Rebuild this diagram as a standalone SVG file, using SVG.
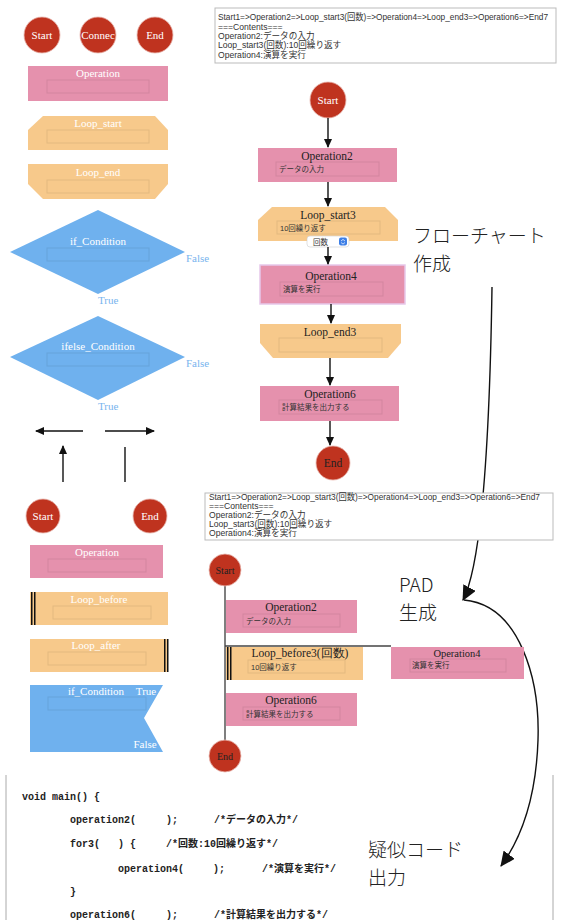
<svg xmlns="http://www.w3.org/2000/svg" width="566" height="920" viewBox="0 0 566 920">
<defs>
<style>
.circ{fill:#bf331f;stroke:#e8b8b0;stroke-width:0.8}
.op{fill:#e591ad}
.lp{fill:#f7c98b}
.cd{fill:#6fb1ee}
.inp{fill:none;stroke:#000;stroke-opacity:0.08;stroke-width:1}
.wl{font-family:"Liberation Serif",serif;font-size:11px;fill:#fff;text-anchor:middle}
.bl{font-family:"Liberation Serif",serif;font-size:11.5px;fill:#222;text-anchor:middle}
.cl{font-family:"Liberation Serif",serif;font-size:11px;fill:#fff;text-anchor:middle}
.tf{font-family:"Liberation Serif",serif;font-size:11px;fill:#78b4ee}
.in{font-family:"Liberation Sans","Noto Sans CJK JP",sans-serif;font-size:7.5px;fill:#333}
.box{fill:#fff;stroke:#bbb;stroke-width:1}
.bt{font-family:"Liberation Sans","Noto Sans CJK JP",sans-serif;font-size:8.6px;fill:#333}
.big{font-family:"Noto Sans CJK JP",sans-serif;font-size:19px;font-weight:300;fill:#222}
.code{font-family:"Liberation Mono","Noto Sans CJK JP",monospace;font-size:10px;font-weight:bold;fill:#222}
.ar{stroke:#111;stroke-width:1.4;fill:none}
.bar{fill:#111}
</style>
<marker id="ah" markerWidth="10" markerHeight="10" refX="8" refY="5" orient="auto" markerUnits="userSpaceOnUse">
<path d="M0,1 L9,5 L0,9 z" fill="#111"/>
</marker>
<marker id="ahb" markerWidth="16" markerHeight="14" refX="14" refY="7" orient="auto" markerUnits="userSpaceOnUse">
<path d="M0,0 L15,7 L0,14 z" fill="#111"/>
</marker>
</defs>
<rect width="566" height="920" fill="#fff"/>

<!-- Palette top -->
<g id="p-start"><circle class="circ" cx="42" cy="35" r="18"/><text class="cl" x="42" y="39">Start</text></g>
<g id="p-connec"><circle class="circ" cx="98" cy="35" r="18"/><text class="cl" x="98" y="39">Connec</text></g>
<g id="p-end"><circle class="circ" cx="155" cy="35" r="18"/><text class="cl" x="155" y="39">End</text></g>
<g id="p-op"><rect class="op" x="28" y="66" width="140" height="35"/><text class="wl" x="98" y="77">Operation</text><rect class="inp" x="47" y="80" width="102" height="13"/></g>
<g id="p-loopstart"><polygon class="lp" points="43,116 155,116 168,130 168,150 28,150 28,130"/><text class="wl" x="98" y="127">Loop_start</text><rect class="inp" x="47" y="130" width="102" height="13"/></g>
<g id="p-loopend"><polygon class="lp" points="28,164 168,164 168,184 155,199 43,199 28,184"/><text class="wl" x="98" y="176">Loop_end</text><rect class="inp" x="47" y="180" width="102" height="13"/></g>
<g id="p-if"><polygon class="cd" points="98,210 185,252 98,294 10,252"/><text class="wl" x="98" y="245">if_Condition</text><rect class="inp" x="47" y="248" width="102" height="13"/><text class="tf" x="186" y="262">False</text><text class="tf" x="98" y="304">True</text></g>
<g id="p-ifelse"><polygon class="cd" points="98,316 185,357 98,400 10,357"/><text class="wl" x="98" y="350">ifelse_Condition</text><rect class="inp" x="47" y="353" width="102" height="13"/><text class="tf" x="186" y="367">False</text><text class="tf" x="98" y="410">True</text></g>
<g id="p-arrows">
<line class="ar" x1="83" y1="431" x2="36" y2="431" marker-end="url(#ah)"/>
<line class="ar" x1="105" y1="431" x2="154" y2="431" marker-end="url(#ah)"/>
<line class="ar" x1="63" y1="482" x2="63" y2="446" marker-end="url(#ah)"/>
<line class="ar" x1="125" y1="447" x2="125" y2="482"/>
</g>

<!-- Text box 1 -->
<g id="tb1">
<rect class="box" x="215" y="8" width="341" height="55"/>
<text class="bt" x="218" y="20" textLength="330" lengthAdjust="spacingAndGlyphs">Start1=&gt;Operation2=&gt;Loop_start3(回数)=&gt;Operation4=&gt;Loop_end3=&gt;Operation6=&gt;End7</text>
<text class="bt" x="218" y="30">===Contents===</text>
<text class="bt" x="218" y="39">Operation2:データの入力</text>
<text class="bt" x="218" y="48">Loop_start3(回数):10回繰り返す</text>
<text class="bt" x="218" y="58">Operation4:演算を実行</text>
</g>

<!-- Flowchart -->
<g id="f-start"><circle class="circ" cx="328" cy="100" r="18"/><text class="cl" x="328" y="104">Start</text></g>
<g id="f-op2"><rect class="op" x="258" y="148" width="139" height="34"/><text class="bl" x="327" y="160">Operation2</text><rect class="inp" x="276" y="162" width="103" height="14"/><text class="in" x="279" y="172">データの入力</text></g>
<g id="f-loop3"><polygon class="lp" points="272,207 385,207 398,220 398,241 258,241 258,220"/><text class="bl" x="328" y="219">Loop_start3</text><rect class="inp" x="277" y="221" width="103" height="13"/><text class="in" x="280" y="231">10回繰り返す</text>
<rect x="307" y="236" width="42" height="11" rx="3" fill="#fff" stroke="#ccc" stroke-width="0.6"/><text class="in" x="313" y="244.5">回数</text><rect x="339" y="237.5" width="8" height="8" rx="2" fill="#3d7fe6"/><path d="M341,241 l2,-1.6 l2,1.6 M341,242.5 l2,1.6 l2,-1.6" stroke="#fff" stroke-width="0.7" fill="none"/></g>
<g id="f-op4"><rect class="op" x="260" y="265" width="145" height="39" stroke="#e6c8ea" stroke-width="1.5"/><text class="bl" x="331" y="280">Operation4</text><rect class="inp" x="280" y="282" width="103" height="14"/><text class="in" x="283" y="292">演算を実行</text></g>
<g id="f-loopend3"><polygon class="lp" points="260,324 401,324 401,343 388,358 273,358 260,343"/><text class="bl" x="330" y="336">Loop_end3</text><rect class="inp" x="279" y="338" width="103" height="14"/></g>
<g id="f-op6"><rect class="op" x="260" y="386" width="139" height="35"/><text class="bl" x="330" y="398">Operation6</text><rect class="inp" x="279" y="400" width="103" height="14"/><text class="in" x="282" y="410">計算結果を出力する</text></g>
<g id="f-end"><circle class="circ" cx="333" cy="463" r="17"/><text class="bl" x="333" y="467" style="fill:#222">End</text></g>
<g id="f-conn">
<line class="ar" x1="328" y1="118" x2="328" y2="147" marker-end="url(#ah)"/>
<line class="ar" x1="328" y1="182" x2="328" y2="206" marker-end="url(#ah)"/>
<line class="ar" x1="328" y1="247" x2="328" y2="264" marker-end="url(#ah)"/>
<line class="ar" x1="331" y1="304" x2="331" y2="323" marker-end="url(#ah)"/>
<line class="ar" x1="330" y1="358" x2="330" y2="385" marker-end="url(#ah)"/>
<line class="ar" x1="330" y1="421" x2="330" y2="445" marker-end="url(#ah)"/>
</g>

<!-- Annotations -->
<text class="big" x="413" y="243">フローチャート</text>
<text class="big" x="413" y="271">作成</text>
<text class="big" x="399" y="592">PAD</text>
<text class="big" x="399" y="620">生成</text>
<text class="big" x="368" y="857">疑似コード</text>
<text class="big" x="368" y="885">出力</text>
<g id="ann-conn">
<path class="ar" d="M492,287 C490,420 484,560 463,600" marker-end="url(#ahb)"/>
<path class="ar" d="M464,600 C520,605 540,680 538,740 C536,800 520,840 501,866" marker-end="url(#ahb)"/>
</g>

<!-- Palette bottom -->
<g id="q-start"><circle class="circ" cx="43" cy="516" r="17"/><text class="cl" x="43" y="520">Start</text></g>
<g id="q-end"><circle class="circ" cx="150" cy="516" r="17"/><text class="cl" x="150" y="520">End</text></g>
<g id="q-op"><rect class="op" x="30" y="545" width="133" height="33"/><text class="wl" x="97" y="556">Operation</text><rect class="inp" x="48" y="559" width="98" height="13"/></g>
<g id="q-before"><rect class="lp" x="30" y="592" width="138" height="33"/><rect class="bar" x="31" y="592" width="1.5" height="33"/><rect class="bar" x="34" y="592" width="1.5" height="33"/><text class="wl" x="99" y="603">Loop_before</text><rect class="inp" x="53" y="606" width="98" height="13"/></g>
<g id="q-after"><rect class="lp" x="30" y="639" width="138" height="33"/><rect class="bar" x="164" y="639" width="1.5" height="33"/><rect class="bar" x="167" y="639" width="1.5" height="33"/><text class="wl" x="96" y="649">Loop_after</text><rect class="inp" x="48" y="652" width="98" height="13"/></g>
<g id="q-if"><polygon class="cd" points="30,685 163,685 144,718 163,752 30,752"/><text class="wl" x="96" y="695">if_Condition</text><text class="wl" x="146" y="695">True</text><rect class="inp" x="48" y="697" width="98" height="13"/><text class="wl" x="145" y="748">False</text></g>

<!-- Text box 2 -->
<g id="tb2">
<rect class="box" x="205" y="493" width="348" height="47"/>
<text class="bt" x="209" y="500" textLength="331" lengthAdjust="spacingAndGlyphs">Start1=&gt;Operation2=&gt;Loop_start3(回数)=&gt;Operation4=&gt;Loop_end3=&gt;Operation6=&gt;End7</text>
<text class="bt" x="209" y="509">===Contents===</text>
<text class="bt" x="209" y="518">Operation2:データの入力</text>
<text class="bt" x="209" y="527">Loop_start3(回数):10回繰り返す</text>
<text class="bt" x="209" y="536">Operation4:演算を実行</text>
</g>

<!-- PAD -->
<g id="pad-conn">
<line x1="225" y1="586" x2="225" y2="740" stroke="#555" stroke-width="1.5"/>
<line x1="225" y1="646" x2="391" y2="646" stroke="#444" stroke-width="1.5"/>
</g>
<g id="pad-start"><circle class="circ" cx="225" cy="570" r="16"/><text class="bl" x="225" y="574" style="font-size:10px">Start</text></g>
<g id="pad-op2"><rect class="op" x="226" y="600" width="131" height="33"/><text class="bl" x="291" y="611">Operation2</text><rect class="inp" x="243" y="614" width="97" height="13"/><text class="in" x="246" y="624">データの入力</text></g>
<g id="pad-loop"><rect class="lp" x="226" y="647" width="137" height="33"/><rect class="bar" x="227" y="647" width="1.5" height="33"/><rect class="bar" x="230" y="647" width="1.5" height="33"/><text class="bl" x="300" y="657">Loop_before3(回数)</text><rect class="inp" x="248" y="660" width="97" height="13"/><text class="in" x="251" y="670">10回繰り返す</text></g>
<g id="pad-op4"><rect class="op" x="391" y="647" width="133" height="32"/><text class="bl" x="457" y="657" style="font-size:10.5px">Operation4</text><rect class="inp" x="410" y="659" width="96" height="13"/><text class="in" x="412" y="668">演算を実行</text></g>
<g id="pad-op6"><rect class="op" x="226" y="693" width="131" height="33"/><text class="bl" x="291" y="704">Operation6</text><rect class="inp" x="243" y="707" width="97" height="13"/><text class="in" x="246" y="717">計算結果を出力する</text></g>
<g id="pad-end"><circle class="circ" cx="225" cy="756" r="16"/><text class="bl" x="225" y="760" style="font-size:10px">End</text></g>

<!-- Pseudo code -->
<g id="code">
<line x1="6" y1="775" x2="6" y2="920" stroke="#aaa" stroke-width="1"/>
<line x1="553" y1="775" x2="553" y2="920" stroke="#aaa" stroke-width="1"/>
<text class="code" x="22" y="800">void main() {</text>
<text class="code" x="70" y="823">operation2(</text><text class="code" x="166" y="823">);</text><text class="code" x="214" y="823">/*データの入力*/</text>
<text class="code" x="70" y="847">for3(</text><text class="code" x="118" y="847">) {</text><text class="code" x="166" y="847">/*回数:10回繰り返す*/</text>
<text class="code" x="118" y="872">operation4(</text><text class="code" x="213" y="872">);</text><text class="code" x="262" y="872">/*演算を実行*/</text>
<text class="code" x="70" y="895">}</text>
<text class="code" x="70" y="918">operation6(</text><text class="code" x="166" y="918">);</text><text class="code" x="214" y="918">/*計算結果を出力する*/</text>
</g>
</svg>
